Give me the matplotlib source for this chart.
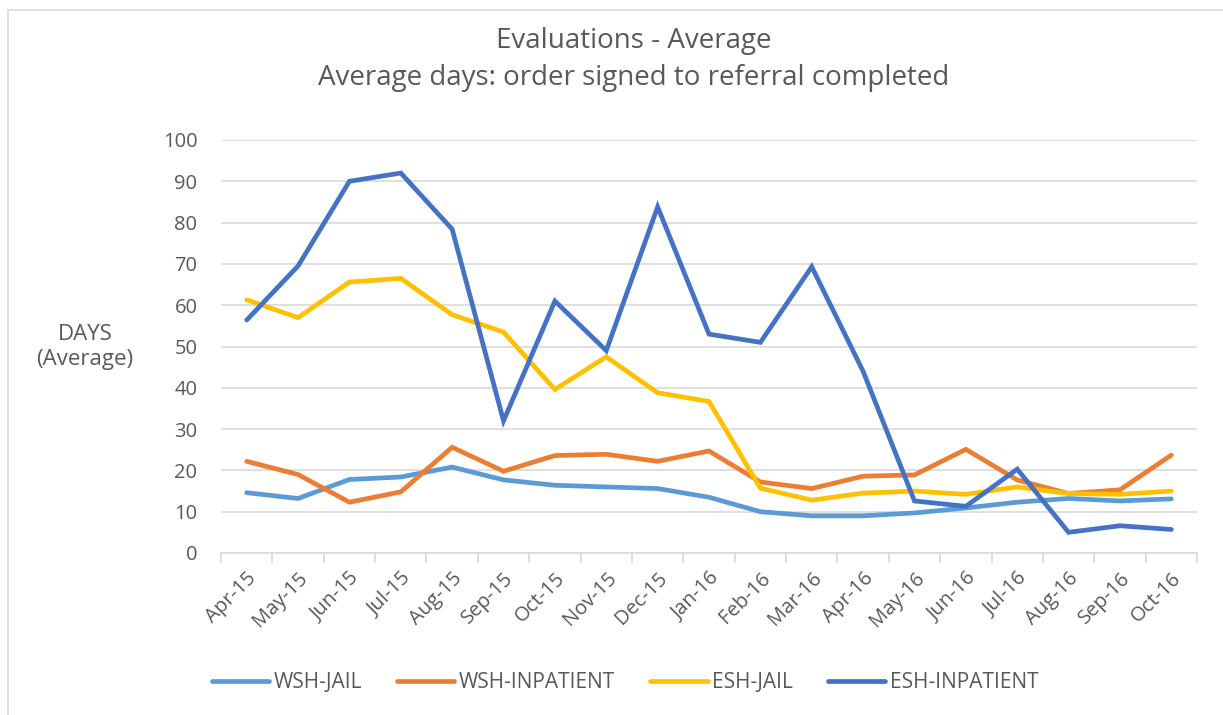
import matplotlib
matplotlib.use("Agg")
import matplotlib.pyplot as plt
from matplotlib.patches import Rectangle
from matplotlib.ticker import FixedLocator, NullFormatter

months = ["Apr-15", "May-15", "Jun-15", "Jul-15", "Aug-15", "Sep-15", "Oct-15",
          "Nov-15", "Dec-15", "Jan-16", "Feb-16", "Mar-16", "Apr-16", "May-16",
          "Jun-16", "Jul-16", "Aug-16", "Sep-16", "Oct-16"]

wsh_jail = [14.6, 13.2, 17.8, 18.4, 20.8, 17.7, 16.4, 16.0, 15.6, 13.5,
            10.0, 9.0, 9.0, 9.7, 10.9, 12.3, 13.2, 12.6, 13.1]
wsh_inpatient = [22.2, 19.0, 12.3, 14.8, 25.6, 19.8, 23.6, 23.9, 22.2, 24.7,
                 17.2, 15.6, 18.6, 18.9, 25.1, 17.7, 14.4, 15.3, 23.7]
esh_jail = [61.3, 57.0, 65.6, 66.5, 57.7, 53.5, 39.6, 47.5, 38.8, 36.7,
            15.7, 12.8, 14.5, 15.0, 14.2, 16.0, 14.4, 14.2, 15.0]
esh_inpatient = [56.4, 69.5, 90.0, 92.0, 78.4, 32.0, 61.0, 49.0, 83.8, 53.0,
                 51.0, 69.3, 44.0, 12.6, 11.3, 20.3, 5.0, 6.6, 5.7]

series = [("WSH-JAIL", wsh_jail, "#5B9BD5"),
          ("WSH-INPATIENT", wsh_inpatient, "#ED7D31"),
          ("ESH-JAIL", esh_jail, "#FFC000"),
          ("ESH-INPATIENT", esh_inpatient, "#4472C4")]

plt.rcParams['font.family'] = ['Open Sans', 'DejaVu Sans']
txt = "#595959"

W, H = 1223, 715
fig = plt.figure(figsize=(W / 100, H / 100), dpi=100)
fig.patches.append(Rectangle((8 / W, -0.1), 1.2, 1 - 10 / H + 0.1,
                             transform=fig.transFigure, fill=False,
                             edgecolor="#D9D9D9", linewidth=1.2))

ax = fig.add_axes([221 / W, 1 - 553 / H, (1197 - 221) / W, (553 - 140) / H])
x = list(range(len(months)))
for name, vals, col in series:
    ax.plot(x, vals, color=col, linewidth=3.4, label=name,
            solid_capstyle="round", solid_joinstyle="miter")

ax.set_ylim(0, 100)
ax.set_xlim(-0.5, len(months) - 0.5)
ax.set_yticks(range(0, 101, 10))
ax.yaxis.grid(True, color="#D9D9D9", linewidth=1.2)
ax.set_axisbelow(True)
for s in ["top", "right", "left"]:
    ax.spines[s].set_visible(False)
ax.spines["bottom"].set_color("#D9D9D9")
ax.spines["bottom"].set_linewidth(1.2)
ax.tick_params(axis="y", length=0, labelsize=14.5, labelcolor=txt, pad=17)

ax.set_xticks(x)
ax.set_xticklabels(months, rotation=45, ha="right", rotation_mode="anchor",
                   fontsize=14.5, color=txt)
ax.tick_params(axis="x", which="major", length=0, pad=11)
ax.xaxis.set_minor_locator(FixedLocator([i - 0.5 for i in range(len(months) + 1)]))
ax.xaxis.set_minor_formatter(NullFormatter())
ax.tick_params(axis="x", which="minor", length=7, width=1.2, color="#D9D9D9")

fig.text(85 / W, 1 - 347 / H, "DAYS\n(Average)", ha="center", va="center",
         fontsize=16, color=txt, linespacing=1.25)

fig.text(634 / W, 1 - 41 / H, "Evaluations - Average", ha="center", va="center",
         fontsize=20, color=txt)
fig.text(634 / W, 1 - 78 / H, "Average days: order signed to referral completed",
         ha="center", va="center", fontsize=20, color=txt)

leg = fig.legend(loc="center", bbox_to_anchor=(625 / W, 1 - 683 / H), ncol=4,
                 frameon=False, fontsize=15, handlelength=2.75, columnspacing=1.7,
                 handletextpad=0.2)
for t in leg.get_texts():
    t.set_color(txt)

fig.savefig("out.png", dpi=100)
